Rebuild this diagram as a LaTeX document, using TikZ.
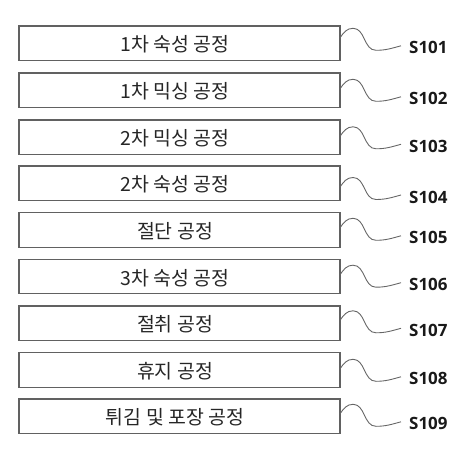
\documentclass[tikz,border=0pt]{standalone}
\usepackage{fontspec}
\newfontfamily\kr{Noto Sans CJK KR}
\newfontfamily\lab{Open Sans}
\tikzset{
  procbox/.style={draw=black!62, line width=1.1pt},
  proctext/.style={font=\kr\fontsize{19.5}{22}\selectfont, text=black!85, inner sep=0pt, anchor=center},
  steplabel/.style={font=\lab\bfseries\fontsize{17}{20}\selectfont, text=black!90, anchor=west, inner sep=0pt},
  squiggle/.style={draw=black!60, line width=0.9pt}
}
\begin{document}
\begin{tikzpicture}[x=1bp,y=-1bp]
\useasboundingbox (0,0) rectangle (475,462);
\foreach \i/\top/\ly/\txt in {
  1/26/47.8/{1차 숙성 공정},
  2/73/98.8/{1차 믹싱 공정},
  3/120/146.3/{2차 믹싱 공정},
  4/166/197/{2차 숙성 공정},
  5/212.7/237.8/{절단 공정},
  6/259.3/284.7/{3차 숙성 공정},
  7/306/330.3/{절취 공정},
  8/352.7/378.8/{휴지 공정},
  9/399/423.8/{튀김 및 포장 공정}}{
  \draw[procbox] (19,\top) rectangle (340,\top+34.5);
  \node[proctext] (t\i) at (175,\top+18.5) {\txt};
  \node[steplabel] (s\i) at (409,\ly) {S10\i};
  \coordinate (a\i) at (340,\ly-10);
  \coordinate (p\i) at (353,\ly-19.5);
  \coordinate (b\i) at (376,\ly+2.5);
  \coordinate (e\i) at (401,\ly-2);
  \draw[squiggle] (a\i) to[out=55,in=180] (p\i) to[out=0,in=180] (b\i) to[out=0,in=195] (e\i);
}
\end{tikzpicture}
\end{document}
